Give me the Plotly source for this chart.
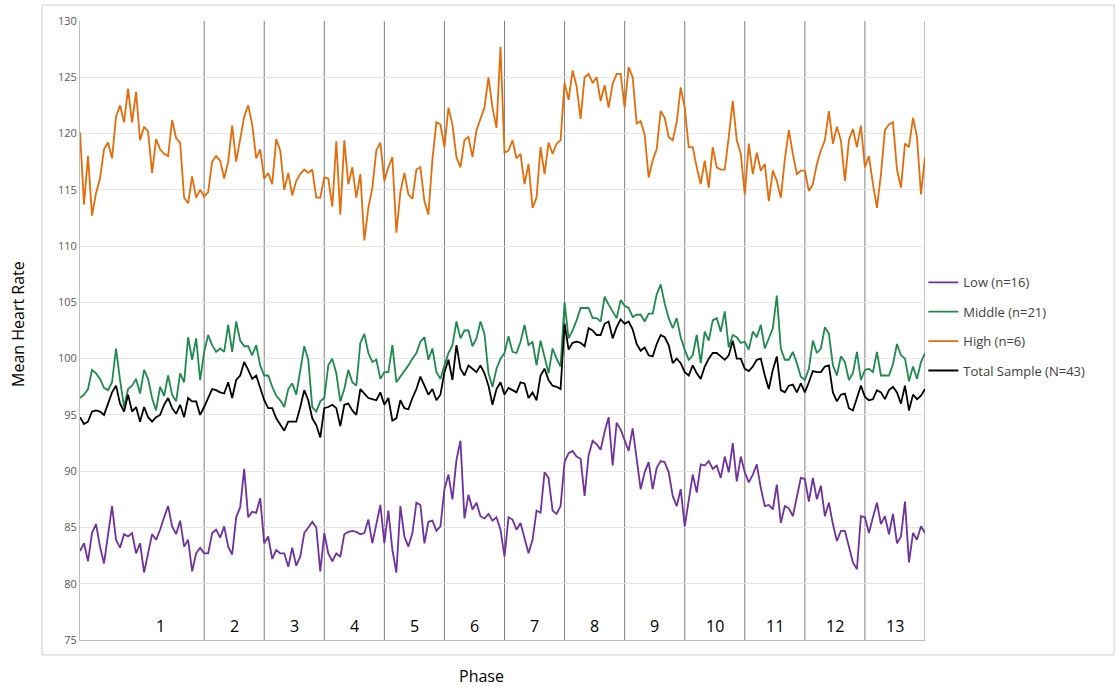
import plotly.graph_objects as go

# Sample index along the session; phases are delimited by sample boundaries
phase_bounds = [0, 31, 46, 61, 76, 91, 106, 121, 136, 151, 166, 181, 196, 211]
phase_labels = ["1", "2", "3", "4", "5", "6", "7", "8", "9", "10", "11", "12", "13"]

low = [
    82.9, 83.6, 82.0, 84.5, 85.3, 83.3, 81.8, 84.2, 86.9, 83.9,
    83.2, 84.4, 84.2, 84.5, 82.7, 83.6, 81.0, 82.7, 84.4, 83.9,
    84.8, 85.9, 86.9, 85.1, 84.4, 85.6, 83.3, 83.9, 81.1, 82.7,
    83.2, 82.7, 82.7, 84.5, 84.8, 84.1, 85.1, 83.3, 82.6, 85.9,
    86.8, 90.2, 85.9, 86.4, 86.3, 87.6, 83.6, 84.2, 82.2, 83.0,
    82.7, 82.7, 81.5, 83.2, 81.6, 82.4, 84.5, 85.0, 85.5, 85.0,
    81.1, 84.5, 82.7, 82.0, 82.7, 82.4, 84.4, 84.6, 84.7, 84.6,
    84.4, 84.5, 85.7, 83.6, 85.2, 87.0, 83.6, 86.5, 83.0, 81.0,
    86.9, 84.2, 83.3, 84.5, 87.2, 87.0, 83.6, 85.5, 85.6, 84.7,
    85.1, 88.4, 89.7, 87.5, 91.0, 92.7, 85.8, 87.9, 86.6, 87.2,
    86.0, 85.8, 86.2, 85.6, 85.9, 84.8, 82.4, 85.9, 85.7, 84.8,
    85.4, 84.1, 82.7, 83.9, 86.5, 86.3, 89.9, 89.4, 86.5, 86.2,
    86.9, 90.8, 91.6, 91.8, 91.3, 91.1, 87.8, 91.4, 92.7, 92.4,
    91.9, 93.5, 94.8, 90.5, 94.3, 93.7, 92.8, 91.8, 93.8, 91.2,
    88.4, 89.9, 90.8, 88.4, 90.3, 90.9, 90.8, 89.9, 87.8, 86.9,
    88.4, 85.1, 87.5, 89.7, 88.1, 90.6, 90.5, 90.9, 90.2, 90.5,
    89.4, 91.3, 89.9, 92.5, 89.1, 91.3, 89.9, 89.0, 89.7, 90.6,
    88.5, 86.9, 87.0, 86.6, 88.8, 85.4, 86.9, 86.7, 86.0, 87.8,
    89.4, 89.3, 87.3, 89.4, 87.5, 88.7, 86.0, 87.2, 85.3, 83.8,
    84.7, 84.7, 83.3, 81.9, 81.3, 86.0, 85.9, 84.5, 85.9, 87.2,
    85.3, 86.0, 84.4, 86.2, 83.6, 84.2, 87.3, 81.9, 84.5, 83.9,
    85.1, 84.5,
]

middle = [
    96.5, 96.8, 97.3, 99.0, 98.7, 98.2, 97.4, 97.2, 97.9, 100.9,
    98.1, 95.7, 97.3, 97.6, 98.2, 96.9, 99.0, 98.2, 96.5, 95.4,
    97.5, 96.7, 98.5, 96.8, 96.2, 98.7, 97.9, 101.9, 99.9, 101.8,
    98.1, 100.6, 102.1, 101.2, 100.6, 100.9, 100.6, 103.0, 100.6, 103.3,
    101.6, 101.1, 101.1, 100.3, 101.2, 99.4, 98.5, 98.5, 97.5, 96.7,
    96.3, 95.7, 97.3, 97.8, 96.8, 99.1, 101.1, 99.9, 95.7, 95.3,
    96.2, 96.5, 99.4, 100.0, 98.7, 96.2, 97.3, 99.0, 97.9, 97.6,
    101.4, 102.2, 100.5, 99.7, 99.9, 98.2, 98.8, 98.8, 101.2, 97.9,
    98.4, 98.8, 99.4, 100.0, 100.5, 101.5, 101.9, 99.9, 100.9, 98.8,
    98.2, 99.4, 100.5, 101.2, 103.3, 101.8, 102.5, 102.5, 101.1, 101.8,
    103.3, 102.2, 98.7, 97.5, 99.1, 100.0, 100.5, 102.0, 100.6, 100.5,
    101.5, 103.0, 101.2, 101.5, 99.4, 101.6, 100.0, 98.7, 100.9, 100.0,
    99.3, 105.0, 101.8, 102.5, 103.4, 104.5, 104.5, 104.5, 103.6, 103.6,
    103.3, 105.5, 104.8, 104.2, 103.6, 105.2, 104.7, 104.5, 103.7, 103.9,
    103.9, 103.3, 104.0, 104.0, 105.7, 106.6, 104.9, 103.6, 102.7, 103.6,
    101.9, 100.8, 99.9, 100.3, 102.1, 99.6, 102.4, 101.6, 103.4, 103.6,
    102.4, 104.2, 101.0, 102.1, 101.9, 101.4, 101.5, 100.8, 102.4, 101.9,
    103.0, 100.9, 101.8, 102.7, 105.6, 100.9, 99.9, 99.9, 100.6, 99.6,
    98.4, 98.1, 99.1, 101.6, 100.5, 100.9, 102.8, 102.2, 99.4, 98.5,
    100.2, 99.7, 98.1, 98.7, 100.6, 98.1, 99.0, 99.1, 98.8, 100.6,
    98.5, 98.5, 98.5, 99.5, 101.3, 100.3, 100.0, 98.0, 99.3, 98.2,
    99.7, 100.5,
]

high = [
    120.1, 113.7, 118.0, 112.7, 114.7, 116.0, 118.6, 119.2, 117.8, 121.5,
    122.5, 121.0, 124.0, 121.0, 123.7, 119.4, 120.6, 120.2, 116.5, 119.5,
    118.6, 118.2, 118.0, 121.2, 119.6, 119.2, 114.3, 113.8, 116.2, 114.3,
    115.0, 114.4, 114.8, 117.5, 118.0, 117.6, 116.0, 117.5, 120.7, 117.5,
    119.5, 121.5, 122.5, 120.8, 117.8, 118.6, 116.0, 116.5, 115.5, 119.5,
    118.5, 115.0, 116.5, 114.5, 115.8, 116.4, 116.8, 116.5, 116.8, 114.3,
    114.3, 116.1, 116.0, 113.5, 119.3, 112.8, 119.4, 115.5, 117.0, 114.3,
    116.4, 110.5, 113.4, 115.2, 118.5, 119.2, 115.8, 117.0, 117.9, 111.2,
    114.8, 116.5, 114.6, 114.2, 116.8, 117.0, 114.0, 112.8, 117.7, 121.0,
    120.8, 118.8, 122.3, 120.8, 117.9, 117.0, 119.4, 119.7, 117.9, 120.3,
    121.3, 122.3, 125.0, 122.3, 120.5, 127.7, 118.3, 118.5, 119.4, 117.8,
    118.2, 115.5, 117.3, 113.4, 114.3, 118.8, 116.4, 119.2, 118.2, 119.1,
    119.4, 124.5, 123.0, 125.6, 124.2, 121.3, 125.0, 125.3, 124.5, 125.0,
    122.9, 124.3, 122.3, 124.4, 125.3, 125.3, 122.3, 125.9, 125.0, 120.9,
    121.1, 119.9, 116.1, 117.6, 118.6, 122.0, 121.4, 119.7, 119.4, 121.0,
    124.1, 122.3, 118.8, 118.8, 117.0, 115.5, 117.6, 115.2, 118.8, 117.0,
    116.8, 116.8, 119.7, 122.9, 119.4, 118.2, 114.6, 119.1, 116.4, 118.3,
    116.7, 117.3, 114.0, 116.7, 115.8, 114.3, 117.7, 120.3, 118.2, 116.4,
    116.7, 116.7, 114.9, 115.5, 117.3, 118.5, 119.4, 122.0, 119.1, 120.6,
    119.4, 115.8, 119.4, 120.4, 118.8, 120.7, 117.0, 118.0, 115.5, 113.4,
    116.4, 120.3, 120.8, 121.0, 116.8, 115.2, 119.1, 118.8, 121.4, 119.7,
    114.6, 117.9,
]

total = [
    94.8, 94.2, 94.4, 95.3, 95.4, 95.3, 95.0, 96.0, 97.0, 97.6,
    96.0, 95.3, 96.8, 95.3, 95.7, 94.4, 95.7, 94.8, 94.4, 94.8,
    95.0, 95.9, 96.5, 95.6, 95.1, 95.9, 94.8, 96.5, 96.2, 96.2,
    95.0, 95.7, 96.5, 97.3, 97.2, 97.0, 96.9, 97.9, 96.5, 98.1,
    98.5, 99.7, 99.0, 98.2, 98.5, 97.3, 96.3, 95.6, 95.6, 94.7,
    94.2, 93.6, 94.4, 94.4, 94.4, 95.7, 97.2, 96.3, 94.7, 94.1,
    93.0, 95.6, 95.7, 95.9, 95.6, 94.0, 95.9, 96.0, 95.4, 95.0,
    97.3, 96.9, 96.5, 96.4, 96.3, 97.0, 95.9, 96.5, 94.5, 94.7,
    96.3, 95.6, 95.5, 96.5, 97.3, 98.4, 97.6, 96.8, 97.3, 96.3,
    96.8, 98.8, 99.9, 98.1, 101.2, 99.1, 98.5, 99.4, 99.1, 98.8,
    99.4, 98.7, 97.6, 95.9, 97.3, 97.9, 96.8, 97.4, 97.2, 97.0,
    97.9, 97.8, 96.5, 97.0, 96.3, 98.5, 99.1, 98.1, 97.6, 97.5,
    97.3, 103.1, 100.8, 101.4, 101.5, 101.4, 101.1, 102.7, 102.5, 102.1,
    102.1, 103.1, 103.3, 101.8, 102.8, 103.5, 103.1, 103.3, 102.6, 101.3,
    100.7, 101.0, 100.3, 100.2, 101.3, 102.1, 101.9, 101.2, 99.6, 100.0,
    99.6, 98.8, 98.5, 99.4, 98.7, 98.2, 99.3, 100.0, 100.5, 100.5,
    100.2, 99.9, 100.3, 101.6, 100.0, 100.0, 99.1, 98.9, 99.3, 99.9,
    100.0, 98.5, 97.3, 99.0, 100.2, 97.2, 97.0, 97.6, 97.7, 97.0,
    97.8, 97.0, 97.9, 98.9, 98.8, 98.8, 99.3, 99.4, 97.0, 96.2,
    96.8, 96.9, 95.6, 95.4, 96.5, 97.6, 96.6, 96.3, 96.4, 97.2,
    97.0, 96.4, 97.2, 97.5, 97.0, 96.0, 97.6, 95.4, 96.8, 96.4,
    96.7, 97.3,
]

t = list(range(len(high)))

series = [
    ("Low (n=16)", low, "#7030a0"),
    ("Middle (n=21)", middle, "#1e8a4c"),
    ("High (n=6)", high, "#e46c0a"),
    ("Total Sample (N=43)", total, "#000000"),
]

fig = go.Figure()
for i, (name, vals, color) in enumerate(series):
    fig.add_trace(go.Scatter(
        x=t, y=vals, mode="lines", name=name,
        legendgroup=f"g{i}",
        line=dict(color=color, width=1.8),
        hoverinfo="skip",
    ))

# Phase boundary lines
for b in phase_bounds[1:]:
    fig.add_shape(type="line", xref="x", yref="y", x0=b, x1=b, y0=75, y1=130,
                  line=dict(color="#7f7f7f", width=1), layer="below")

# Phase numbers along the bottom of the plot
label_pos = []
for k in range(len(phase_labels)):
    a, b = phase_bounds[k], phase_bounds[k + 1]
    label_pos.append(a + (b - a) * (0.65 if k == 0 else 0.5))
for lbl, xp in zip(phase_labels, label_pos):
    fig.add_annotation(x=xp, y=75, xref="x", yref="y", text=lbl, showarrow=False,
                       yanchor="bottom", yshift=1,
                       font=dict(family="Open Sans", size=16, color="#000000"))

# Chart frame
fig.add_shape(type="rect", xref="paper", yref="paper",
              x0=-0.045, x1=1.2237, y0=-0.0242, y1=1.0258,
              line=dict(color="#d0d0d0", width=1), fillcolor="rgba(0,0,0,0)")

fig.add_annotation(text="Mean Heart Rate", xref="paper", yref="paper",
                   x=-0.0734, y=0.5105, textangle=-90, showarrow=False,
                   xanchor="center", yanchor="middle",
                   font=dict(family="Open Sans", size=16, color="#000000"))
fig.add_annotation(text="Phase", xref="paper", yref="paper",
                   x=0.4757, y=-0.0582, showarrow=False,
                   xanchor="center", yanchor="middle",
                   font=dict(family="Open Sans", size=16, color="#000000"))

fig.update_layout(
    width=1116, height=687,
    margin=dict(l=80, r=191, t=21, b=47),
    paper_bgcolor="white", plot_bgcolor="white",
    showlegend=True,
    legend=dict(
        x=0.998, y=0.602, xanchor="left", yanchor="top",
        traceorder="grouped", tracegroupgap=9.5,
        font=dict(family="Open Sans", size=13, color="#404040"),
        bgcolor="rgba(0,0,0,0)",
    ),
    xaxis=dict(
        range=[0, 211], showticklabels=False, ticks="", showgrid=False,
        zeroline=False, showline=True, linecolor="#bfbfbf", linewidth=1,
    ),
    yaxis=dict(
        range=[75, 130], dtick=5, tick0=75, showgrid=True, gridcolor="#e6e6e6",
        gridwidth=1, zeroline=False, showline=True, linecolor="#bfbfbf",
        linewidth=1, ticks="",
        tickfont=dict(family="Open Sans", size=11, color="#595959"),
    ),
)

fig.write_html("out.html")
